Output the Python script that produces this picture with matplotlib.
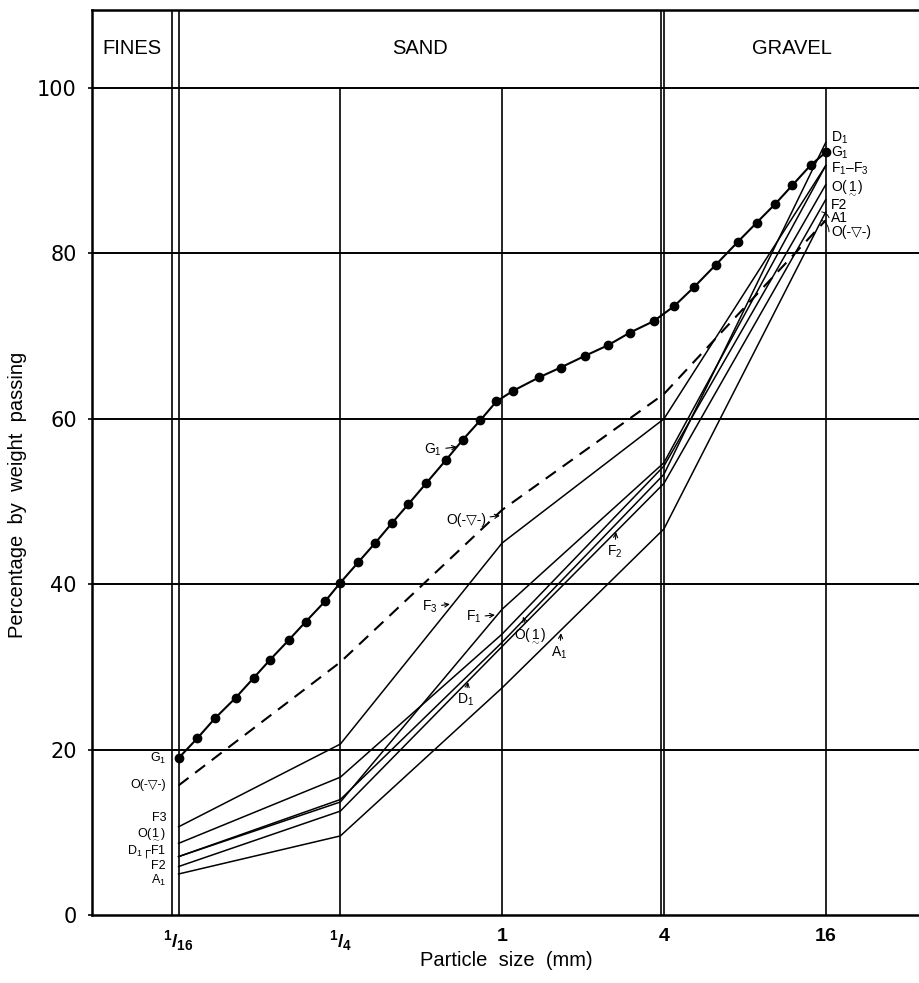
import matplotlib
matplotlib.use('Agg')
import matplotlib.pyplot as plt
from matplotlib import font_manager
from matplotlib.ticker import FixedLocator, NullLocator, FixedFormatter
import numpy as np

# ---------------- data ----------------
sizes = [1/16, 1/4, 1, 4, 16]                       # mm
D1 = [7.1, 14.0, 33.0, 53.3, 93.4]
F1 = [7.1, 13.7, 37.0, 54.7, 90.6]
F2 = [5.9, 12.6, 32.5, 52.2, 86.5]
F3 = [10.7, 20.7, 45.0, 60.0, 90.6]
O1 = [8.7, 16.7, 34.0, 54.3, 88.3]
A1 = [5.0, 9.6, 27.5, 46.7, 85.0]
O_tri = [15.7, 30.6, 49.0, 63.0, 84.0]              # dashed curve

G1_sizes = [0.0625, 0.0734, 0.0853, 0.102, 0.119, 0.137, 0.161, 0.186, 0.220, 0.25,
            0.292, 0.337, 0.389, 0.448, 0.521, 0.617, 0.715, 0.828, 0.952, 1.10,
            1.37, 1.65, 2.03, 2.48, 2.98, 3.66, 4.36, 5.17, 6.23, 7.54,
            8.85, 10.4, 12.0, 14.1, 16.0]
G1 = [19.0, 21.4, 23.8, 26.3, 28.7, 30.9, 33.3, 35.5, 38.0, 40.2,
      42.7, 45.0, 47.4, 49.7, 52.2, 55.0, 57.5, 59.8, 62.1, 63.4,
      65.0, 66.2, 67.6, 68.9, 70.4, 71.8, 73.6, 75.9, 78.6, 81.4,
      83.7, 86.0, 88.2, 90.7, 92.2]

x_tick_labels = [r'$^\mathbf{1}\mathbf{/}_\mathbf{16}$', r'$^\mathbf{1}\mathbf{/}_\mathbf{4}$',
                 r'$\mathbf{1}$', r'$\mathbf{4}$', r'$\mathbf{16}$']
y_ticks = [0, 20, 40, 60, 80, 100]
zones = ['FINES', 'SAND', 'GRAVEL']

# ---------------- fonts ----------------
names = {f.name for f in font_manager.fontManager.ttflist}
NARROW = 'Liberation Sans Narrow' if 'Liberation Sans Narrow' in names else 'Liberation Sans'
plt.rcParams['font.family'] = ['Liberation Sans', 'DejaVu Sans']
plt.rcParams['mathtext.fontset'] = 'custom'
plt.rcParams['mathtext.rm'] = NARROW
plt.rcParams['mathtext.it'] = NARROW + ':italic'
plt.rcParams['mathtext.bf'] = NARROW + ':bold'
plt.rcParams['mathtext.sf'] = NARROW

fig = plt.figure(figsize=(9.2, 9.83), dpi=100)
ax = fig.add_axes([0.1, 0.0688, 0.9, 0.921])
ax.set_xscale('log', base=2)
XMIN, XMAX = 2 ** -5.07, 2 ** 5.165
YTOP = 109.4
ax.set_xlim(XMIN, XMAX)
ax.set_ylim(0, YTOP)

K = 'black'
# grid
for v in [20, 40, 60, 80, 100]:
    ax.axhline(v, color=K, lw=1.4, zorder=1)
for s in [1/4, 1, 16]:
    ax.plot([s, s], [0, 100], color=K, lw=1.2, zorder=1)
dbl = {1/16: 2 ** -0.085, 4: 2 ** -0.04}
for s, f in dbl.items():
    ax.axvline(s, color=K, lw=1.2, zorder=1)
    ax.axvline(s * f, color=K, lw=1.2, zorder=1)

for side in ['left', 'bottom', 'top']:
    ax.spines[side].set_linewidth(1.8)
ax.spines['right'].set_visible(False)

# zone headers
lefts = [XMIN, 1/16, 4]
rights = [1/16 * dbl[1/16], 4 * dbl[4], XMAX]
for z, a, b in zip(zones, lefts, rights):
    ax.text(np.sqrt(a * b), (100 + YTOP) / 2, z, ha='center', va='center', fontsize=14.5)

# curves
for vals in [D1, F1, F2, F3, O1, A1]:
    ax.plot(sizes, vals, color=K, lw=1.1, zorder=3)
ax.plot(sizes, O_tri, color=K, lw=1.5, dashes=(6, 4), zorder=3)
ax.plot(G1_sizes, G1, color=K, lw=1.5, marker='o', ms=6, zorder=4)

# ticks
ax.xaxis.set_major_locator(FixedLocator(sizes))
ax.xaxis.set_major_formatter(FixedFormatter(x_tick_labels))
ax.xaxis.set_minor_locator(NullLocator())
ax.tick_params(axis='x', length=0, pad=9, labelsize=14)
ax.set_yticks(y_ticks)
ax.set_yticklabels([str(t) for t in y_ticks], family='DejaVu Sans', fontsize=15)
ax.tick_params(axis='y', length=3, width=1.2, pad=8)

fig.text(18 / 920, 1 - 495 / 983, 'Percentage  by  weight  passing', rotation=90,
         ha='center', va='center', fontsize=14.5, family=[NARROW, 'DejaVu Sans'])
fig.text(506 / 920, 1 - 960 / 983, 'Particle  size  (mm)', ha='center', va='center', fontsize=14.5)

LF = dict(fontsize=10, family=[NARROW, 'DejaVu Sans'], color=K, zorder=6)
LFs = dict(LF, fontsize=9)

# left-hand labels (at 1/16)
left_labels = [('G$_1$', 19.0), ('O(-▽-)', 15.8), ('F3', 11.8),
               (r'O($\underset{\sim}{1}$)', 9.8), ('D$_1$┌F1', 7.7), ('F2', 6.0), ('A$_1$', 4.2)]
for t, v in left_labels:
    ax.annotate(t, xy=(1/16, v), xytext=(-9, 0), textcoords='offset points',
                ha='right', va='center', **LFs)

# right-hand labels (at 16)
right_labels = [('D$_1$', 94.0), ('G$_1$', 92.2), ('F$_1$–F$_3$', 90.2),
                (r'O($\underset{\sim}{1}$)', 87.9), ('F2', 85.8), ('A1', 84.3), ('O(-▽-)', 82.6)]
for t, v in right_labels:
    ax.annotate(t, xy=(16, v), xytext=(4, 0), textcoords='offset points',
                ha='left', va='center', **LF)
for v_end, v_lab in [(A1[-1], 84.3), (O_tri[-1], 82.6)]:
    ax.annotate('', xy=(16 * 2 ** -0.05, v_end), xytext=(16 * 2 ** 0.04, v_lab),
                arrowprops=dict(arrowstyle='-', lw=0.7, connectionstyle='arc3,rad=0.3',
                                shrinkA=0, shrinkB=0))

# in-plot labels with arrows
AP = dict(arrowstyle='->,head_length=0.3,head_width=0.15', lw=0.8, shrinkA=1, shrinkB=0)
inplot = [
    ('G$_1$', (0.679, 56.6), (-11, -2), 'right'),
    ('O(-▽-)', (0.981, 48.3), (-10, -3), 'right'),
    ('F$_3$', (0.639, 37.6), (-9, -2), 'right'),
    ('F$_1$', (0.940, 36.3), (-10, -1.5), 'right'),
    (r'O($\underset{\sim}{1}$)', (1.195, 36.1), (5, -14), 'center'),
    ('A$_1$', (1.655, 34.1), (-1, -14), 'center'),
    ('F$_2$', (2.652, 46.3), (-1, -14), 'center'),
    ('D$_1$', (0.746, 28.2), (-2, -13), 'center'),
]
for t, xy, off, ha in inplot:
    ax.annotate(t, xy=xy, xytext=off, textcoords='offset points', ha=ha, va='center',
                arrowprops=AP, **LF)

fig.savefig('out.png', dpi=100)
